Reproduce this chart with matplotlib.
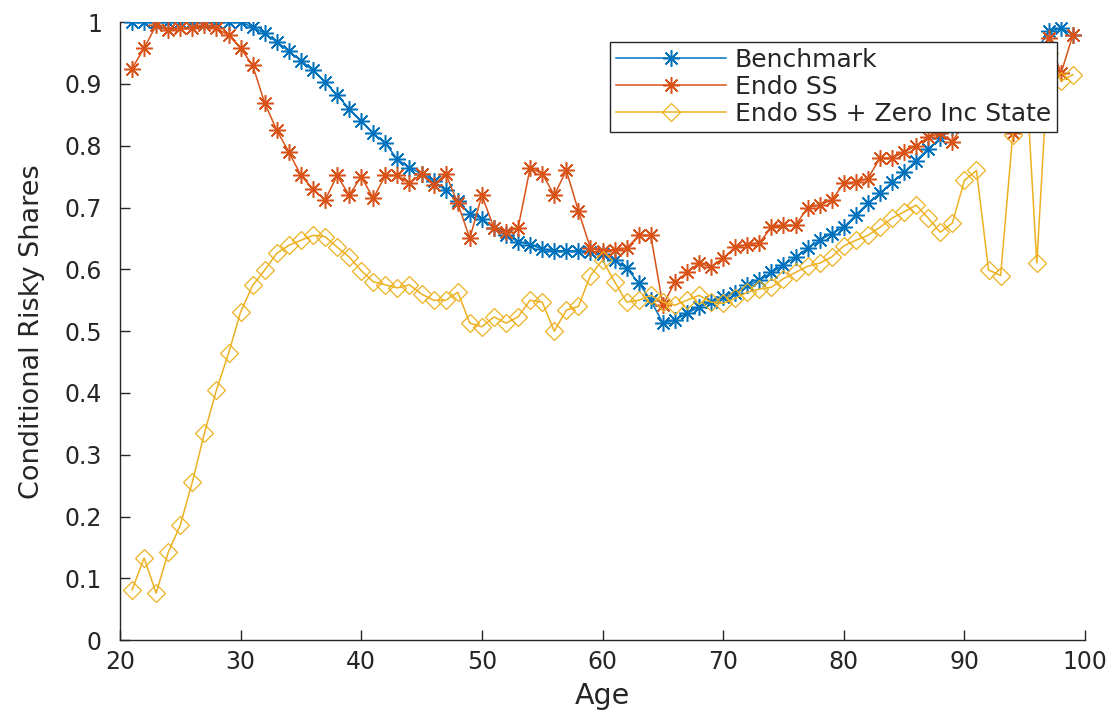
import numpy as np
import matplotlib.pyplot as plt

# ages 21..99, one value per year
ages = np.arange(21, 100)

benchmark = [
    1.0, 1.0, 1.0, 1.0, 1.0, 1.0, 1.0, 1.0, 1.0, 1.0,            # 21-30
    0.992, 0.982, 0.968, 0.953, 0.938, 0.922, 0.903, 0.882, 0.86, 0.84,  # 31-40
    0.82, 0.804, 0.778, 0.764, 0.755, 0.743, 0.728, 0.71, 0.69, 0.682,  # 41-50
    0.667, 0.655, 0.645, 0.64, 0.633, 0.63, 0.63, 0.63, 0.628, 0.625,   # 51-60
    0.615, 0.602, 0.578, 0.55, 0.513, 0.518, 0.529, 0.539, 0.547, 0.555,  # 61-70
    0.561, 0.574, 0.582, 0.595, 0.607, 0.62, 0.634, 0.647, 0.658, 0.668,  # 71-80
    0.688, 0.707, 0.723, 0.741, 0.757, 0.776, 0.795, 0.812, 0.83, 0.848,  # 81-90
    0.866, 0.884, 0.902, 0.92, 0.938, 0.955, 0.985, 0.99, 0.98,           # 91-99
]

endo_ss = [
    0.925, 0.958, 0.995, 0.987, 0.99, 0.99, 0.995, 0.99, 0.979, 0.958,  # 21-30
    0.93, 0.869, 0.825, 0.79, 0.752, 0.73, 0.712, 0.752, 0.72, 0.75,    # 31-40
    0.715, 0.752, 0.752, 0.739, 0.755, 0.736, 0.755, 0.707, 0.65, 0.72,  # 41-50
    0.667, 0.66, 0.667, 0.764, 0.755, 0.72, 0.76, 0.695, 0.634, 0.63,    # 51-60
    0.632, 0.634, 0.655, 0.655, 0.542, 0.579, 0.595, 0.61, 0.604, 0.618,  # 61-70
    0.636, 0.64, 0.643, 0.668, 0.671, 0.671, 0.70, 0.704, 0.712, 0.739,   # 71-80
    0.741, 0.747, 0.78, 0.78, 0.79, 0.80, 0.814, 0.82, 0.806, 0.84,       # 81-90
    0.86, 0.88, 0.9, 0.82, 0.9, 0.94, 0.975, 0.917, 0.98,                 # 91-99
]

endo_ss_zero = [
    0.081, 0.133, 0.076, 0.142, 0.186, 0.256, 0.335, 0.405, 0.464, 0.531,  # 21-30
    0.574, 0.599, 0.626, 0.639, 0.647, 0.655, 0.653, 0.636, 0.62, 0.598,   # 31-40
    0.58, 0.575, 0.57, 0.575, 0.56, 0.55, 0.55, 0.563, 0.513, 0.507,       # 41-50
    0.523, 0.513, 0.523, 0.55, 0.547, 0.50, 0.534, 0.54, 0.59, 0.615,      # 51-60
    0.58, 0.547, 0.55, 0.558, 0.547, 0.542, 0.55, 0.558, 0.547, 0.545,     # 61-70
    0.553, 0.563, 0.568, 0.571, 0.585, 0.595, 0.605, 0.61, 0.62, 0.638,    # 71-80
    0.647, 0.655, 0.668, 0.683, 0.693, 0.704, 0.683, 0.66, 0.675, 0.744,   # 81-90
    0.76, 0.599, 0.59, 0.817, 0.95, 0.61, 0.95, 0.905, 0.915,              # 91-99
]

labels = ["Benchmark", "Endo SS", "Endo SS + Zero Inc State"]
xticks = [20, 30, 40, 50, 60, 70, 80, 90, 100]
yticks = [0, 0.1, 0.2, 0.3, 0.4, 0.5, 0.6, 0.7, 0.8, 0.9, 1]
ytick_labels = ["0", "0.1", "0.2", "0.3", "0.4", "0.5", "0.6", "0.7", "0.8", "0.9", "1"]

# MATLAB default colour order
blue = "#0072BD"
orange = "#D95319"
yellow = "#EDB120"
axcol = "#262626"

plt.rcParams["font.family"] = "DejaVu Sans"

fig = plt.figure(figsize=(11.17, 7.16), dpi=100)
ax = fig.add_axes([0.1074, 0.106, 0.864, 0.863])

asterisk = (8, 2, 0)
ax.plot(ages, benchmark, color=blue, lw=1.1, marker=asterisk, ms=12, mew=1.1,
        label=labels[0])
ax.plot(ages, endo_ss, color=orange, lw=1.1, marker=asterisk, ms=12, mew=1.1,
        label=labels[1])
ax.plot(ages, endo_ss_zero, color=yellow, lw=1.1, marker="D", ms=9, mew=0.9,
        mfc="none", label=labels[2])

ax.set_xlim(20, 100)
ax.set_ylim(0, 1)
ax.set_xticks(xticks)
ax.set_yticks(yticks)
ax.set_yticklabels(ytick_labels)

# box off, ticks pointing in, like MATLAB
for side in ["top", "right"]:
    ax.spines[side].set_visible(False)
for side in ["left", "bottom"]:
    ax.spines[side].set_color(axcol)
    ax.spines[side].set_linewidth(1.0)
ax.tick_params(direction="in", length=7, width=1, colors=axcol, labelsize=17)
ax.tick_params(axis="y", pad=13)
ax.tick_params(axis="x", pad=7)

ax.set_xlabel("Age", fontsize=20.5, color=axcol, labelpad=6)
ax.set_ylabel("Conditional Risky Shares", fontsize=19.5, color=axcol, labelpad=14)

leg = ax.legend(loc="upper right", bbox_to_anchor=(0.971, 0.968), borderaxespad=0,
                fontsize=18, fancybox=False, framealpha=1, edgecolor=axcol,
                handlelength=4.4, handletextpad=0.35, borderpad=0.25,
                labelspacing=0.12, markerscale=1.0)
leg.get_frame().set_linewidth(1.0)
for t in leg.get_texts():
    t.set_color(axcol)

fig.savefig("out.png", dpi=100)
